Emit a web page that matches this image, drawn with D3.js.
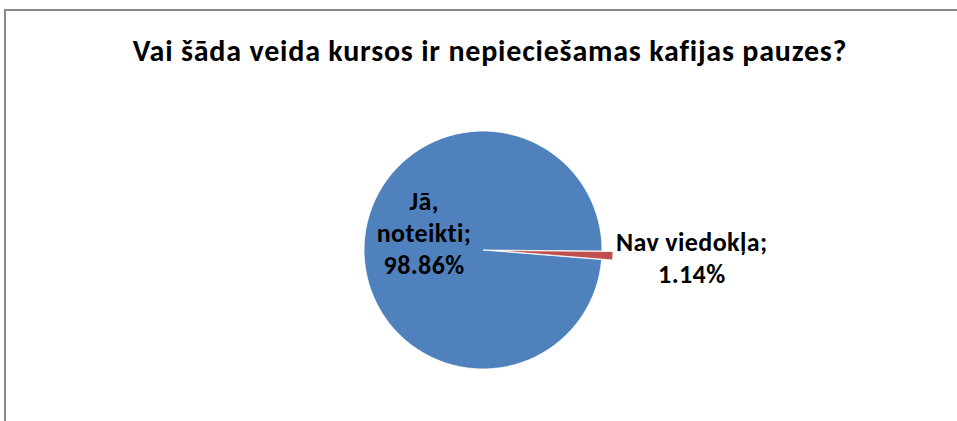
<!DOCTYPE html>
<html>
<head>
<meta charset="utf-8">
<script src="https://cdn.jsdelivr.net/npm/d3@7"></script>
<style>
  body { margin: 0; background: #fff; }
  text { font-family: Carlito, Calibri, "Open Sans", sans-serif; font-weight: bold; fill: #000; }
</style>
</head>
<body>
<svg id="chart"></svg>
<script>
var title = 'Vai šāda veida kursos ir nepieciešamas kafijas pauzes?';
var categories = ['Jā, noteikti', 'Nav viedokļa'];
var values = [98.86, 1.14];
var labelLines = [['Jā,', 'noteikti;', '98.86%'], ['Nav viedokļa;', '1.14%']];
var colors = ['#4f81bd', '#c0504d'];

var width = 957, height = 421;
var cx = 483, cy = 250, radius = 119;
var startDeg = 94.6;

var svg = d3.select('#chart')
  .attr('width', width)
  .attr('height', height);

// chart frame (only top and left edges fall inside the window)
svg.append('rect')
  .attr('x', 5).attr('y', 10)
  .attr('width', width + 20).attr('height', height + 20)
  .attr('fill', '#fff')
  .attr('stroke', '#8a8a8a')
  .attr('stroke-width', 2);

svg.append('text')
  .attr('x', 490).attr('y', 61)
  .attr('text-anchor', 'middle')
  .style('font-size', '30px')
  .style('letter-spacing', '0.8px')
  .text(title);

var data = categories.map((c, i) => ({ name: c, value: values[i], lines: labelLines[i], color: colors[i] }));

var pie = d3.pie()
  .sort(null)
  .value(d => d.value)
  .startAngle(startDeg * Math.PI / 180)
  .endAngle(startDeg * Math.PI / 180 + 2 * Math.PI);

var arc = d3.arc().innerRadius(0).outerRadius(radius);
var arcs = pie(data);

var g = svg.append('g')
  .attr('transform', `translate(${ cx }, ${ cy })`);

var explode = [0, 11];
var mid = d => (d.startAngle + d.endAngle) / 2;

g.selectAll('.slice')
  .data(arcs)
  .enter().append('path')
    .attr('class', 'slice')
    .attr('d', arc)
    .attr('fill', d => d.data.color)
    .attr('stroke', '#fff')
    .attr('stroke-width', 0.8)
    .attr('transform', (d, i) => {
      var a = mid(d);
      return `translate(${ explode[i] * Math.sin(a) }, ${ -explode[i] * Math.cos(a) })`;
    });

// label radius: inside for the big slice, outside for the small one
var labelR = [59, 209];
var labelDy = [-13, 0];
var lineH = 32;

var labels = g.selectAll('.label')
  .data(arcs)
  .enter().append('text')
    .attr('class', 'label')
    .attr('text-anchor', 'middle')
    .style('font-size', '26px')
    .style('letter-spacing', '0.4px');

labels.each(function(d, i) {
  var a = mid(d);
  var x = labelR[i] * Math.sin(a);
  var y = -labelR[i] * Math.cos(a) + labelDy[i];
  var lines = d.data.lines;
  var y0 = y - (lines.length - 1) * lineH / 2 + 8;
  d3.select(this).selectAll('tspan')
    .data(lines)
    .enter().append('tspan')
      .attr('x', x)
      .attr('y', (l, j) => y0 + j * lineH)
      .text(l => l);
});
</script>
</body>
</html>
